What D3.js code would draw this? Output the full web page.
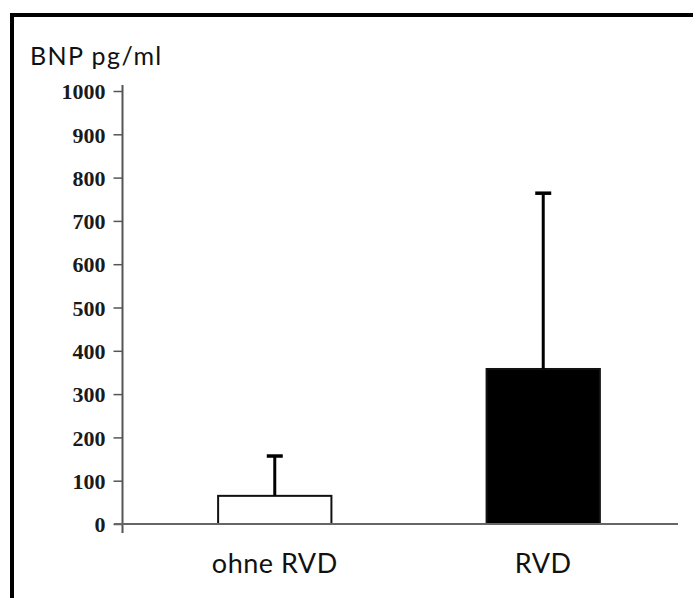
<!DOCTYPE html>
<html>
<head>
<meta charset="utf-8">
<script src="https://cdn.jsdelivr.net/npm/d3@7"></script>
<style>
  body { margin: 0; background: #fff; }
  .tick-label { font-family: "Liberation Serif", "Times New Roman", serif; font-weight: bold; font-size: 22px; fill: #1a1a1a; }
  .cat-label { font-family: Lato, "Open Sans", sans-serif; font-size: 27px; letter-spacing: 0.5px; fill: #111; }
  .y-title { font-family: Lato, "Open Sans", sans-serif; font-size: 25px; letter-spacing: 1.4px; fill: #111; }
</style>
</head>
<body>
<div id="chart"></div>
<script>
// chart data
const categories = ["ohne RVD", "RVD"];
const means = [65, 358];
const errTop = [157, 764];
const barFill = ["#fff", "#000"];
const yTicks = [0, 100, 200, 300, 400, 500, 600, 700, 800, 900, 1000];

const W = 693, H = 598;
const svg = d3.select("#chart").append("svg")
    .attr("width", W)
    .attr("height", H);

// frame (only top and left edges show in the crop)
svg.append("rect")
    .attr("x", 12).attr("y", 15)
    .attr("width", W + 20).attr("height", H + 20)
    .attr("fill", "none")
    .attr("stroke", "#000")
    .attr("stroke-width", 4);

svg.append("text")
    .attr("x", 30).attr("y", 65)
    .attr("class", "y-title")
    .text("BNP pg/ml");

const y = d3.scaleLinear().domain([0, 1000]).range([524, 91]);
const x = d3.scaleBand().domain(categories).range([151, 667]).paddingInner(0.578).paddingOuter(0.25);

// y axis
const yAxis = svg.append("g")
    .attr("transform", "translate(122.5,0)")
    .call(d3.axisLeft(y).tickValues(yTicks).tickSize(9).tickPadding(8).tickFormat(d3.format("d")));
yAxis.select(".domain").remove();
yAxis.selectAll(".tick line").attr("stroke", "#555").attr("stroke-width", 1.5);
yAxis.selectAll(".tick text").attr("class", "tick-label").attr("dy", "0.35em");
yAxis.append("line")
    .attr("x1", 0).attr("x2", 0)
    .attr("y1", y(1000) - 6).attr("y2", y(0) + 9)
    .attr("stroke", "#555").attr("stroke-width", 2);

// bars
const bars = svg.append("g");
bars.selectAll("rect")
    .data(categories)
    .enter()
    .append("rect")
        .attr("x", d => x(d))
        .attr("width", x.bandwidth())
        .attr("y", (d, i) => y(means[i]))
        .attr("height", (d, i) => y(0) - y(means[i]))
        .attr("fill", (d, i) => barFill[i])
        .attr("stroke", "#111")
        .attr("stroke-width", 2);

// error bars (upper only)
bars.selectAll("line.err")
    .data(categories)
    .enter()
    .append("line")
        .attr("class", "err")
        .attr("x1", d => x(d) + x.bandwidth() / 2)
        .attr("x2", d => x(d) + x.bandwidth() / 2)
        .attr("y1", (d, i) => y(means[i]))
        .attr("y2", (d, i) => y(errTop[i]))
        .attr("stroke", "#000").attr("stroke-width", 3);
bars.selectAll("line.cap")
    .data(categories)
    .enter()
    .append("line")
        .attr("class", "cap")
        .attr("x1", d => x(d) + x.bandwidth() / 2 - 8)
        .attr("x2", d => x(d) + x.bandwidth() / 2 + 8)
        .attr("y1", (d, i) => y(errTop[i]))
        .attr("y2", (d, i) => y(errTop[i]))
        .attr("stroke", "#000").attr("stroke-width", 3.5);

// baseline
svg.append("line")
    .attr("x1", 114).attr("x2", 678)
    .attr("y1", y(0)).attr("y2", y(0))
    .attr("stroke", "#666").attr("stroke-width", 2);

// category labels
svg.selectAll("text.cat")
    .data(categories)
    .enter()
    .append("text")
        .attr("class", "cat-label")
        .attr("x", d => x(d) + x.bandwidth() / 2)
        .attr("y", 573)
        .attr("text-anchor", "middle")
        .text(d => d);
</script>
</body>
</html>
